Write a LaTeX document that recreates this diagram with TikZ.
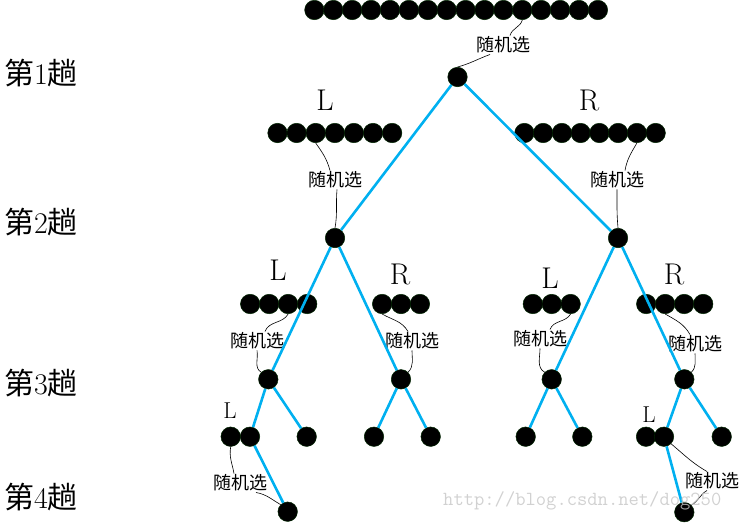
\documentclass[tikz,border=0pt]{standalone}
\usepackage{fontspec}
\newfontfamily\cjk{Noto Sans CJK SC}
\usetikzlibrary{positioning}
\definecolor{treeblue}{RGB}{0,176,240}
\tikzset{
  ball/.style={circle, fill=black, draw=black!85!green, line width=0.5pt, inner sep=0pt, minimum size=19.5pt},
  branch/.style={treeblue, line width=2.6pt},
  pick/.style={black, line width=0.6pt},
  picktext/.style={font=\cjk\fontsize{18}{18}\selectfont, inner sep=1pt},
  side/.style={font=\fontsize{30}{30}\selectfont, inner sep=0pt},
  sidesmall/.style={font=\fontsize{23}{23}\selectfont, inner sep=0pt},
  pass/.style={font=\fontsize{30}{30}\selectfont, inner sep=0pt},
  wmark/.style={font=\ttfamily\fontsize{20}{20}\selectfont, text=gray!45, inner sep=0pt}
}

\begin{document}
\begin{tikzpicture}[x=1pt,y=-1pt]
  \useasboundingbox (0,0) rectangle (741,522);

  % pass labels
  \node[pass] (p1) at (41,73)  {{\cjk 第}1{\cjk 趟}};
  \node[pass] (p2) at (41,222) {{\cjk 第}2{\cjk 趟}};
  \node[pass] (p3) at (41,383) {{\cjk 第}3{\cjk 趟}};
  \node[pass] (p4) at (41,497) {{\cjk 第}4{\cjk 趟}};

  % pass 1
  \foreach \i in {0,...,15}
    \node[ball] (t\i) at (314.4+18.9*\i,10) {};
  \node[ball] (root) at (457.5,77) {};
  \node[picktext] (s0) at (503,45) {随机选};
  \draw[pick] (t11.south) to[out=-105,in=75] ([xshift=7pt]s0.north);
  \draw[pick] ([xshift=-13pt]s0.south) to[out=-160,in=15] (root.north);

  % pass 2
  \node[side] (l1L) at (325,100) {L};
  \node[side] (l1R) at (589,100) {R};
  \foreach \i in {0,...,6}
    \node[ball] (a\i) at (277.5+19.1*\i,133) {};
  \foreach \i in {0,...,7}
    \node[ball] (b\i) at (524.4+18.75*\i,133) {};
  \node[ball] (nL) at (335,238) {};
  \node[ball] (nR) at (618,238) {};
  \node[picktext] (sL) at (335,180) {随机选};
  \node[picktext] (sR) at (617,180) {随机选};
  \draw[pick] (a2.south) to[out=-55,in=105] ([xshift=-5pt]sL.north);
  \draw[pick] ([xshift=2pt]sL.south) to[out=-95,in=80] (nL.north);
  \draw[pick] (b6.south) to[out=-120,in=80] ([xshift=8pt]sR.north);
  \draw[pick] (sR.south) to[out=-90,in=95] (nR.north);

  % pass 3
  \node[side] (l2a) at (278,270) {L};
  \node[side] (l2b) at (400,274) {R};
  \node[side] (l2c) at (550,278) {L};
  \node[side] (l2d) at (674,274) {R};
  \foreach \i in {0,...,3}
    \node[ball] (c\i) at (250.2+19*\i,304) {};
  \foreach \i in {0,...,2}
    \node[ball] (d\i) at (382.1+18.9*\i,304) {};
  \foreach \i in {0,...,2}
    \node[ball] (e\i) at (532.8+18.9*\i,304) {};
  \foreach \i in {0,...,3}
    \node[ball] (f\i) at (646.2+19*\i,304) {};
  \node[ball] (m1) at (268.3,379.3) {};
  \node[ball] (m2) at (401,379.3) {};
  \node[ball] (m3) at (551.7,379.3) {};
  \node[ball] (m4) at (684.3,379.3) {};
  \node[picktext] (sc) at (257,341) {随机选};
  \node[picktext] (sd) at (412,341) {随机选};
  \node[picktext] (se) at (540,339) {随机选};
  \node[picktext] (sf) at (695,344) {随机选};
  \draw[pick] (c2.south) to[out=-120,in=70] ([xshift=8pt]sc.north);
  \draw[pick] (sc.south) to[out=-80,in=150] (m1.north west);
  \draw[pick] (d0.south) to[out=-30,in=120] ([xshift=-4pt]sd.north);
  \draw[pick] (sd.south) to[out=-90,in=45] (m2.north east);
  \draw[pick] (e2.south) to[out=-120,in=70] ([xshift=10pt]se.north);
  \draw[pick] (se.south) to[out=-90,in=150] (m3.north west);
  \draw[pick] (f1.south) to[out=-30,in=120] ([xshift=-5pt]sf.north);
  \draw[pick] (sf.south) to[out=-90,in=45] (m4.north east);

  % pass 4
  \node[sidesmall] (l3a) at (230,411) {L};
  \node[sidesmall] (l3b) at (649,415) {L};
  \node[ball] (g0) at (230.7,436.7) {};
  \node[ball] (g1) at (250,436.7) {};
  \node[ball] (g2) at (306.7,436.7) {};
  \node[ball] (g3) at (374,436.7) {};
  \node[ball] (g4) at (430.7,436.7) {};
  \node[ball] (h0) at (525.7,436.7) {};
  \node[ball] (h1) at (582.3,436.7) {};
  \node[ball] (h2) at (646,436.7) {};
  \node[ball] (h3) at (664,436.7) {};
  \node[ball] (h4) at (721.7,436.7) {};
  \node[ball] (k1) at (287.7,511.7) {};
  \node[ball] (k2) at (684.3,512.2) {};
  \node[picktext] (sg) at (240,483) {随机选};
  \node[picktext] (sh) at (712,481) {随机选};
  \draw[pick] (g0.south) to[out=-100,in=100] ([xshift=-6pt]sg.north);
  \draw[pick] ([xshift=16pt]sg.south) to[out=-10,in=150] (k1.north west);
  \draw[pick] (h3.south east) to[out=-40,in=150] ([xshift=-5pt]sh.north);
  \draw[pick] ([xshift=-5pt]sh.south) to[out=-150,in=30] (k2.north east);

  % branches
  \draw[branch] (root) -- (nL);
  \draw[branch] (root) -- (nR);
  \draw[branch] (nL) -- (m1);
  \draw[branch] (nL) -- (m2);
  \draw[branch] (nR) -- (m3);
  \draw[branch] (nR) -- (m4);
  \draw[branch] (m1) -- (g1);
  \draw[branch] (m1) -- (g2);
  \draw[branch] (m2) -- (g3);
  \draw[branch] (m2) -- (g4);
  \draw[branch] (m3) -- (h0);
  \draw[branch] (m3) -- (h1);
  \draw[branch] (m4) -- (h3);
  \draw[branch] (m4) -- (h4);
  \draw[branch] (g1) -- (k1);
  \draw[branch] (h3) -- (k2);

  \node[wmark, anchor=west, opacity=0.8] (wm) at (443,501) {http://blog.csdn.net/dog250};
\end{tikzpicture}
\end{document}
